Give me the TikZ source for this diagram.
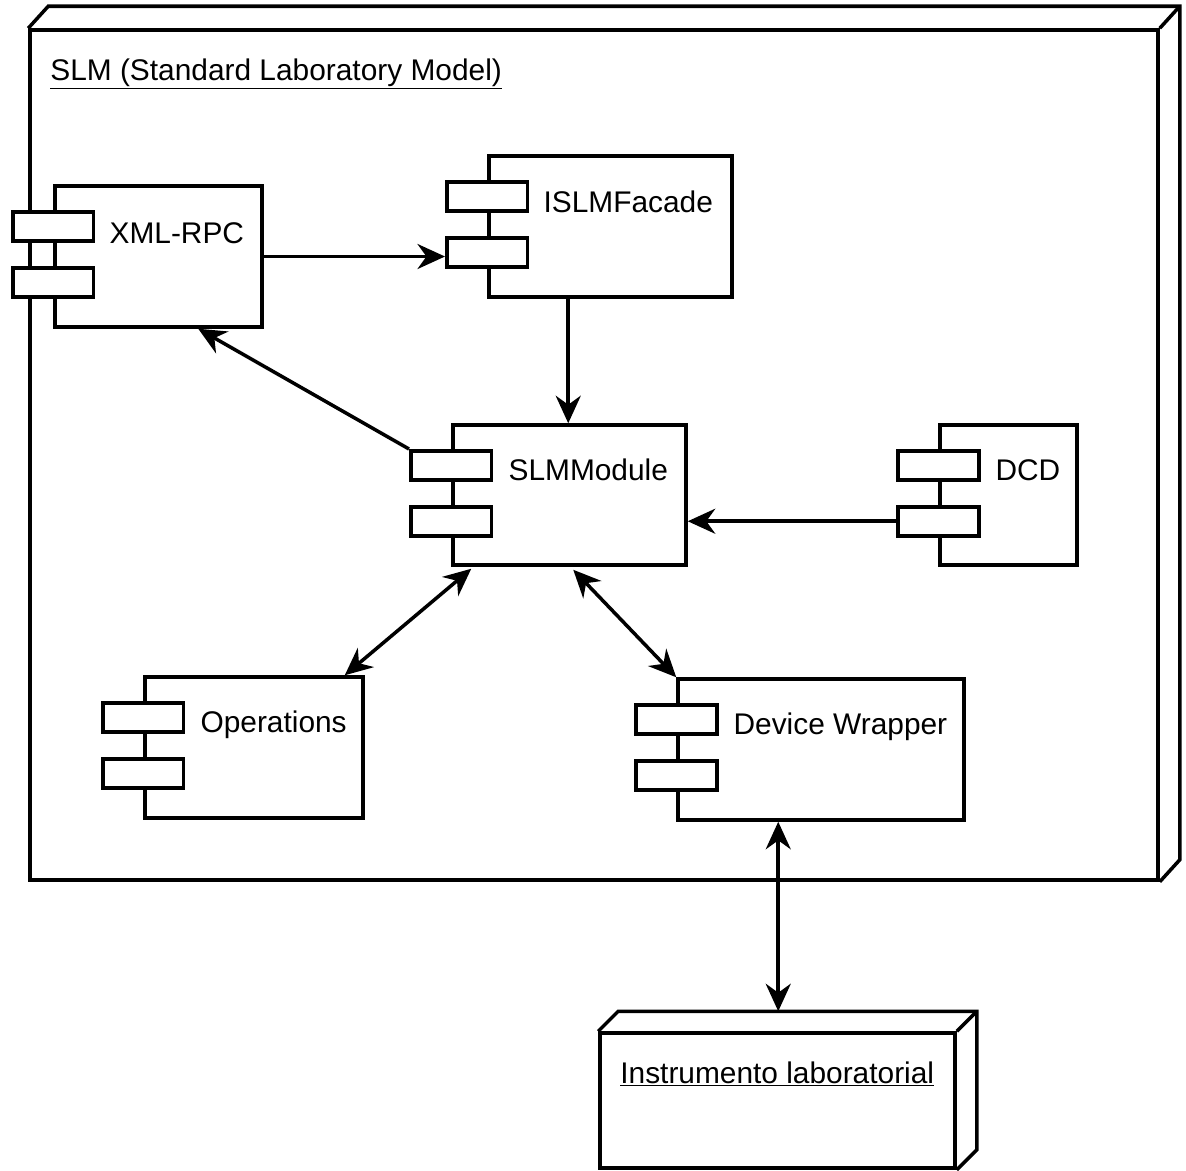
\documentclass[tikz,border=0pt]{standalone}
\usepackage{fontspec}
\setmainfont{Liberation Sans}
\usetikzlibrary{arrows.meta,calc,fit}
\tikzset{
  body/.style={draw, line width=2pt, inner sep=0pt, fill=white},
  port/.style={draw, line width=2pt, fill=white, inner sep=0pt, minimum width=1.62cm, minimum height=0.58cm},
  title/.style={anchor=base west, inner sep=0pt, font=\fontsize{17}{20}\selectfont},
  edge3d/.style={line width=2pt},
  link/.style={line width=2pt, -{Stealth[length=5.5mm,width=5mm]}},
  duplex/.style={line width=2pt, {Stealth[length=5.5mm,width=5mm]}-{Stealth[length=5.5mm,width=5mm]}},
}
\begin{document}
\begin{tikzpicture}[x=0.02cm, y=-0.02cm]
  \useasboundingbox (0,0) rectangle (1186,1170);
  % outer node
  \node[body, fit={(30,30) (1158,880)}] (slm) {};
  \draw[edge3d] (slm.north west) -- ++(20,-22) -| ($(slm.south east)+(20,-22)$) -- (slm.south east);
  \draw[edge3d] (slm.north east) -- ++(20,-22);
  \node[title] (slm-t) at (50,80) {\underline{SLM (Standard Laboratory Model)}};

  % components
  \node[body, fit={(55,186) (262,327)}]  (xml)    {};
  \node[body, fit={(489,156) (732,297)}] (facade) {};
  \node[body, fit={(453,425) (686,565)}] (module) {};
  \node[body, fit={(940,425) (1077,565)}] (dcd)   {};
  \node[body, fit={(145,677) (363,818)}] (ops)    {};
  \node[body, fit={(678,679) (964,820)}] (wrap)   {};
  \foreach \c in {xml,facade,module,dcd,ops,wrap} {
    \node[port] (\c-p1) at ($(\c.north west)+(0,42)$) {};
    \node[port] (\c-p2) at ($(\c.north west)+(0,98)$) {};
  }
  \node[title] (xml-t)    at ($(xml.north west)+(56,59)$)    {XML-RPC};
  \node[title] (facade-t) at ($(facade.north west)+(56,58)$) {ISLMFacade};
  \node[title] (module-t) at ($(module.north west)+(57,57)$) {SLMModule};
  \node[title] (dcd-t)    at ($(dcd.north west)+(57,57)$)    {DCD};
  \node[title] (ops-t)    at ($(ops.north west)+(57,57)$)    {Operations};
  \node[title] (wrap-t)   at ($(wrap.north west)+(57,57)$)   {Device Wrapper};

  % instrument node
  \node[body, fit={(600,1033) (955,1168)}] (instr) {};
  \draw[edge3d] (instr.south east) -- ++(20,-20) |- ($(instr.north west)+(20,-20)$) -- (instr.north west);
  \draw[edge3d] (instr.north east) -- ++(20,-20);
  \coordinate (instr-top) at ($(instr.north west)+(180,-20)$);
  \node[title] (instr-t) at (620,1083) {\underline{Instrumento laboratorial}};

  % connectors
  \coordinate (f-out) at ($(facade.south west)+(81,0)$);
  \coordinate (m-ops) at ($(module.south west)+(20,2)$);
  \coordinate (m-wrap) at ($(module.south west)+(122,3)$);
  \coordinate (w-out) at ($(wrap.south west)+(102,0)$);
  \draw[link] (xml.east) -- (xml.east -| facade-p2.west);
  \draw[link] (f-out) -- (f-out |- module.north);
  \draw[link] (module-p1.north west) -- ($(xml.south west)+(145,0)$);
  \draw[link] (dcd-p2.west) -- (dcd-p2.west -| module.east);
  \draw[duplex] (m-ops) -- ($(ops.north east)+(-20,0)$);
  \draw[duplex] (m-wrap) -- (wrap.north west);
  \draw[duplex] (w-out) -- (w-out |- instr-top);
\end{tikzpicture}
\end{document}
